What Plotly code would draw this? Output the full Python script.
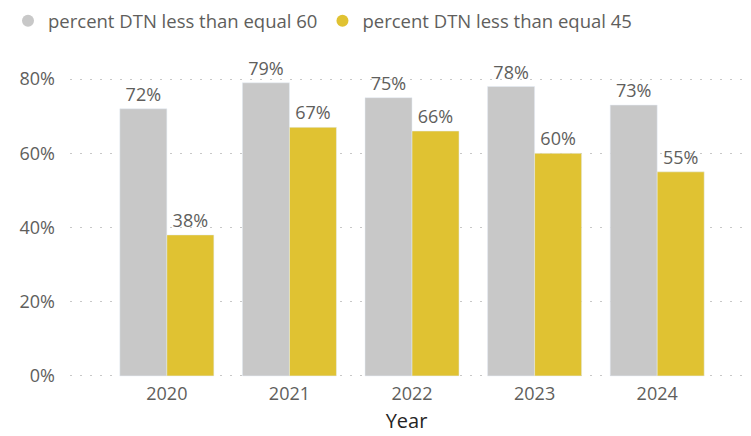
import plotly.graph_objects as go

years = ["2020", "2021", "2022", "2023", "2024"]
pct_le_60 = [0.72, 0.79, 0.75, 0.78, 0.73]
pct_le_45 = [0.38, 0.67, 0.66, 0.60, 0.55]
series_names = ["percent DTN less than equal 60", "percent DTN less than equal 45"]
y_ticks = [0, 0.2, 0.4, 0.6, 0.8]

gray = "#C8C8C8"
yellow = "#E0C232"
font_family = "Open Sans, Noto Sans, DejaVu Sans, sans-serif"

fig = go.Figure()
for name, vals, col in [(series_names[0], pct_le_60, gray), (series_names[1], pct_le_45, yellow)]:
    fig.add_trace(go.Bar(
        x=years, y=vals, name=name, marker_color=col, showlegend=False,
        text=[f"{v:.0%}" for v in vals], textposition="outside",
        textfont=dict(size=18, color="#605E5C", family=font_family),
        cliponaxis=False,
    ))
    fig.add_trace(go.Scatter(
        x=[None], y=[None], mode="markers", name=name,
        marker=dict(symbol="circle", size=15, color=col),
    ))

fig.update_layout(
    width=743, height=428,
    margin=dict(l=62, r=8, t=70, b=59),
    paper_bgcolor="white", plot_bgcolor="white",
    barmode="group", bargap=0.233, bargroupgap=0,
    font=dict(family=font_family, color="#605E5C"),
    legend=dict(
        orientation="h", xref="container", yref="container",
        x=0.0, y=0.969, xanchor="left", yanchor="middle",
        font=dict(size=18.5, color="#605E5C"),
        itemsizing="constant", itemwidth=30, tracegroupgap=0,
    ),
    xaxis=dict(
        type="category", range=[-0.79, 4.70],
        showgrid=False, showline=False, ticks="",
        tickfont=dict(size=18, color="#605E5C"),
        ticklabelstandoff=4,
        title=dict(text="Year", font=dict(size=20, color="#252423"), standoff=9),
    ),
    yaxis=dict(
        range=[-0.003, 0.803], tickvals=y_ticks, tickformat=".0%",
        showgrid=True, gridcolor="#C8C8C8", griddash="2px,8px", gridwidth=1,
        zeroline=False, showline=False, ticks="",
        tickfont=dict(size=18, color="#605E5C"),
        ticklabelstandoff=14,
    ),
)

fig.write_html("out.html")
